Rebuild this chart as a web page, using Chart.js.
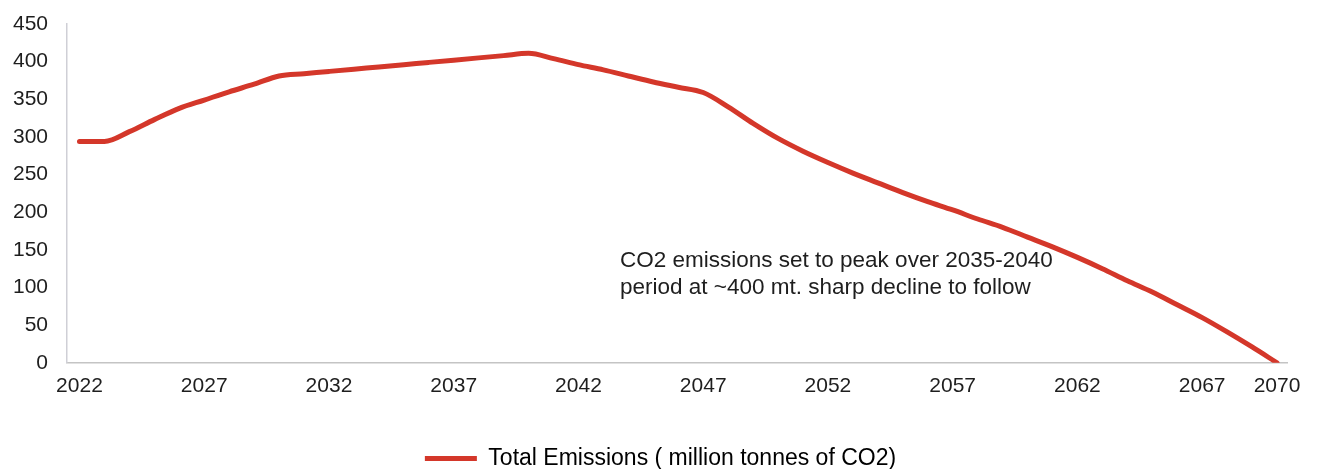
<!DOCTYPE html>
<html>
<head>
<meta charset="utf-8">
<script src="https://cdn.jsdelivr.net/npm/chart.js@4/dist/chart.umd.min.js"></script>
<style>
  html, body { margin: 0; padding: 0; background: #ffffff; }
  #wrap { position: relative; width: 1323px; height: 469px; }
  canvas { display: block; }
</style>
</head>
<body>
<div id="wrap"><canvas id="c" width="1323" height="469"></canvas></div>
<script>
// ---- data ----
const years = [2022,2023,2024,2025,2026,2027,2028,2029,2030,2031,2032,2033,2034,2035,2036,2037,2038,2039,2040,
  2041,2042,2043,2044,2045,2046,2047,2048,2049,2050,2051,2052,2053,2054,2055,2056,2057,2058,2059,2060,
  2061,2062,2063,2064,2065,2066,2067,2068,2069,2070];
const emissions = [294,294,307,323,338,349,360,370,381,384,387,390,393,396,399,402,405,408,411,
  404,396,389,381,373,366,359,340,318,298,281,266,252,239,226,214,203,191,180,167,
  154,140,125,109,94,77,60,41,21,0];
const xTickValues = [2022,2027,2032,2037,2042,2047,2052,2057,2062,2067,2070];
const yTickValues = [0,50,100,150,200,250,300,350,400,450];
const seriesLabel = 'Total Emissions ( million tonnes of CO2)';
const noteLines = ['CO2 emissions set to peak over 2035-2040', 'period at ~400 mt. sharp decline to follow'];

const FONT = 'Liberation Sans, Arial, sans-serif';
const RED = '#d4372a';
const TXT = '#1e1e1e';

const notePlugin = {
  id: 'note',
  afterLayout(chart) {
    // centre the legend on the page rather than on the padded layout box
    if (chart.legend) { chart.legend.left += 12; chart.legend.right += 12; }
  },
  afterDraw(chart) {
    const ctx = chart.ctx;
    ctx.save();
    ctx.font = '22.5px ' + FONT;
    ctx.fillStyle = TXT;
    ctx.textAlign = 'left';
    ctx.textBaseline = 'alphabetic';
    ctx.fillText(noteLines[0], 620, 267);
    ctx.fillText(noteLines[1], 620, 294);
    ctx.restore();
  }
};

new Chart(document.getElementById('c'), {
  type: 'line',
  data: {
    datasets: [{
      label: seriesLabel,
      data: years.map((y, i) => ({ x: y, y: emissions[i] })),
      borderColor: RED,
      backgroundColor: RED,
      borderWidth: 5,
      pointRadius: 0,
      tension: 0.4,
      cubicInterpolationMode: 'monotone',
      borderCapStyle: 'round',
      borderJoinStyle: 'round'
    }]
  },
  options: {
    responsive: false,
    animation: false,
    layout: { padding: { left: 10, right: 36, top: 24, bottom: -11 } },
    plugins: {
      tooltip: { enabled: false },
      legend: {
        position: 'bottom',
        labels: {
          font: { family: FONT, size: 23 },
          color: TXT,
          boxWidth: 52,
          boxHeight: 5,
          padding: 37,
          generateLabels: (chart) => [{
            text: seriesLabel, fillStyle: RED, strokeStyle: RED, lineWidth: 0,
            hidden: false, datasetIndex: 0
          }]
        }
      }
    },
    scales: {
      x: {
        type: 'linear',
        min: 2021.5,
        max: 2070.4,
        afterBuildTicks: (axis) => { axis.ticks = xTickValues.map(v => ({ value: v })); },
        ticks: {
          font: { family: FONT, size: 21 },
          color: TXT,
          padding: 11,
          maxRotation: 0,
          autoSkip: false,
          callback: (v) => String(v)
        },
        grid: { display: false, drawTicks: false },
        border: { display: true, color: '#c4c4c4', width: 1.5 }
      },
      y: {
        min: 0,
        max: 450,
        afterBuildTicks: (axis) => { axis.ticks = yTickValues.map(v => ({ value: v })); },
        afterFit: (axis) => { axis.width = 57; axis.paddingTop = 12; axis.paddingBottom = 12; },
        ticks: {
          font: { family: FONT, size: 21 },
          color: TXT,
          padding: 19
        },
        grid: { display: false, drawTicks: false },
        border: { display: true, color: '#cfcfd6', width: 1.5 }
      }
    }
  },
  plugins: [notePlugin]
});
</script>
</body>
</html>
